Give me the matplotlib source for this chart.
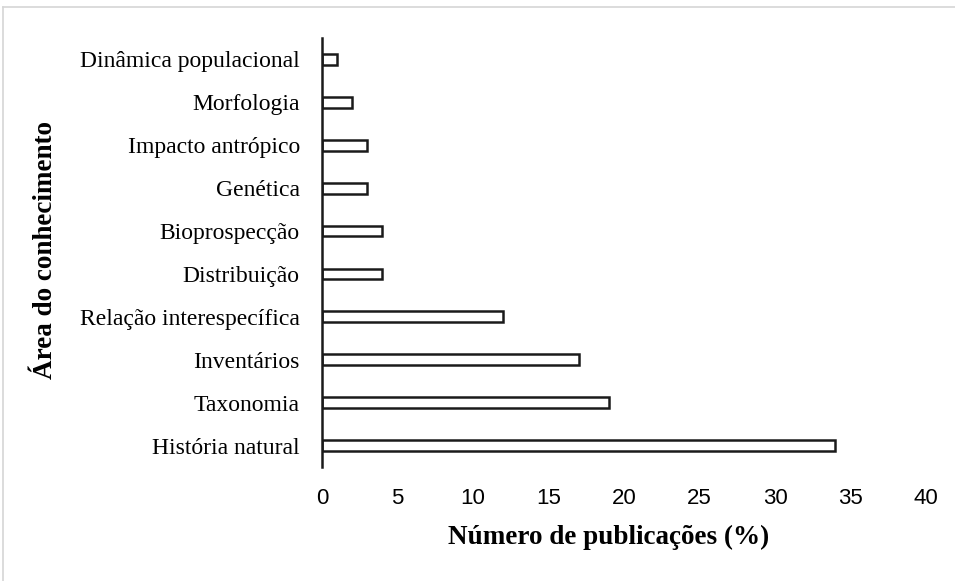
import matplotlib
matplotlib.use("Agg")
import matplotlib.pyplot as plt
from matplotlib.lines import Line2D

categories = ["História natural", "Taxonomia", "Inventários", "Relação interespecífica",
              "Distribuição", "Bioprospecção", "Genética", "Impacto antrópico",
              "Morfologia", "Dinâmica populacional"]
values = [34, 19, 17, 12, 4, 4, 3, 3, 2, 1]
xticks = [0, 5, 10, 15, 20, 25, 30, 35, 40]

W, H = 955, 581
fig = plt.figure(figsize=(W / 100, H / 100), dpi=100)
ax = fig.add_axes([322 / W, 1 - 467 / H, (926 - 322) / W, (467 - 38) / H])

ypos = list(range(len(categories)))
ax.barh(ypos, values, height=0.25, color="white", edgecolor="#1a1a1a", linewidth=1.8)

ax.set_xlim(0, 40)
ax.set_ylim(-0.5, len(categories) - 0.5)
ax.set_yticks(ypos)
ax.set_yticklabels(categories, fontfamily="Liberation Serif", fontsize=17)
ax.set_xticks(xticks)
ax.set_xticklabels([str(t) for t in xticks],
                   fontfamily=["Liberation Sans Narrow", "Liberation Sans"], fontsize=16)
ax.tick_params(axis="both", length=0)
ax.tick_params(axis="y", pad=16)
ax.tick_params(axis="x", pad=15)

for s in ["top", "right", "bottom"]:
    ax.spines[s].set_visible(False)
ax.spines["left"].set_linewidth(1.8)
ax.spines["left"].set_color("#1a1a1a")

fig.text(609 / W, 1 - 537 / H, "Número de publicações (%)", ha="center", va="center",
         fontfamily="Liberation Serif", fontweight="bold", fontsize=19.5)
fig.text(45 / W, 1 - 250 / H, "Área do conhecimento", ha="center", va="center",
         rotation=90, fontfamily="Liberation Serif", fontweight="bold", fontsize=19.5)

# light frame around the image
fig.add_artist(Line2D([3 / W, 3 / W], [0, 1 - 6.5 / H], transform=fig.transFigure,
                      color="#d6d6d6", linewidth=1.2))
fig.add_artist(Line2D([3 / W, 1], [1 - 6.5 / H, 1 - 6.5 / H], transform=fig.transFigure,
                      color="#d6d6d6", linewidth=1.2))

fig.savefig("out.png", dpi=100)
